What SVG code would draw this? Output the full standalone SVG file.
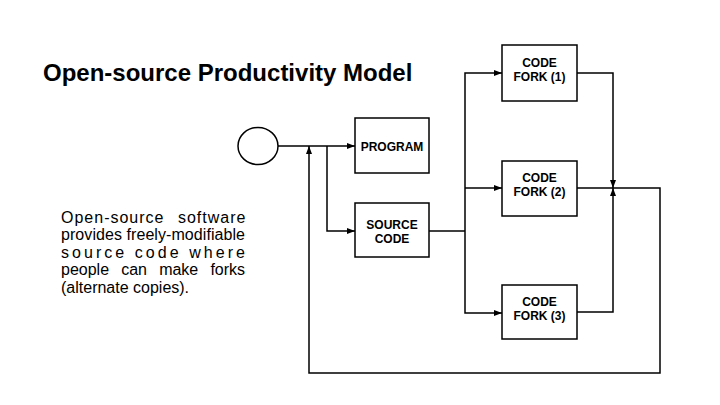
<svg xmlns="http://www.w3.org/2000/svg" width="720" height="405" viewBox="0 0 720 405">
<defs>
<marker id="ah" viewBox="0 0 8 8" refX="8" refY="4" markerWidth="8" markerHeight="8" markerUnits="userSpaceOnUse" orient="auto">
<path d="M0,1 L8,4 L0,7 Z" fill="#000"/>
</marker>
<style>
.box{fill:#fff;stroke:#000;stroke-width:1.5}
.lbl{font-family:"Liberation Sans",Arial,sans-serif;font-weight:bold;font-size:12px;text-anchor:middle;fill:#000}
.c{fill:none;stroke:#000;stroke-width:1.5}
.ca{fill:none;stroke:#000;stroke-width:1.5;marker-end:url(#ah)}
.body{font-family:"Liberation Sans",Arial,sans-serif;font-size:16px;fill:#000}
</style>
</defs>
<rect width="720" height="405" fill="#fff"/>
<text x="43" y="81" font-family="Liberation Sans, Arial, sans-serif" font-weight="bold" font-size="24" fill="#000">Open-source Productivity Model</text>
<g id="description" class="body">
<text x="61" y="222.5" letter-spacing="1" word-spacing="8">Open-source software</text>
<text x="61" y="240" textLength="184" lengthAdjust="spacing">provides freely-modifiable</text>
<text x="61" y="257.5" textLength="184" lengthAdjust="spacing">source code where</text>
<text x="61" y="275" word-spacing="7.7">people can make forks</text>
<text x="61" y="292.5">(alternate copies).</text>
</g>
<g id="connectors">
<path class="ca" d="M278 146 H355"/>
<path class="ca" d="M327 146 V231 H355"/>
<path class="c" d="M429 231 H465"/>
<path class="ca" d="M465 231 V73 H502"/>
<path class="ca" d="M465 188 H502"/>
<path class="ca" d="M465 231 V313 H502"/>
<path class="ca" d="M577 73 H613 V188"/>
<path class="ca" d="M577 312 H613 V188"/>
<path class="ca" d="M577 188 H660 V373 H309 V146"/>
</g>
<g id="start"><ellipse cx="258" cy="146" rx="20" ry="18.5" fill="#fff" stroke="#000" stroke-width="1.5"/></g>
<g id="program"><rect class="box" x="355" y="118" width="74" height="55"/><text class="lbl" x="392" y="151">PROGRAM</text></g>
<g id="source-code"><rect class="box" x="355" y="203" width="74" height="54"/><text class="lbl" x="392" y="229">SOURCE</text><text class="lbl" x="392" y="243">CODE</text></g>
<g id="fork1"><rect class="box" x="502" y="45" width="75" height="56"/><text class="lbl" x="539.5" y="67">CODE</text><text class="lbl" x="539.5" y="81">FORK (1)</text></g>
<g id="fork2"><rect class="box" x="502" y="161" width="75" height="55"/><text class="lbl" x="539.5" y="182">CODE</text><text class="lbl" x="539.5" y="196">FORK (2)</text></g>
<g id="fork3"><rect class="box" x="502" y="285" width="75" height="54"/><text class="lbl" x="539.5" y="306">CODE</text><text class="lbl" x="539.5" y="320">FORK (3)</text></g>
</svg>
